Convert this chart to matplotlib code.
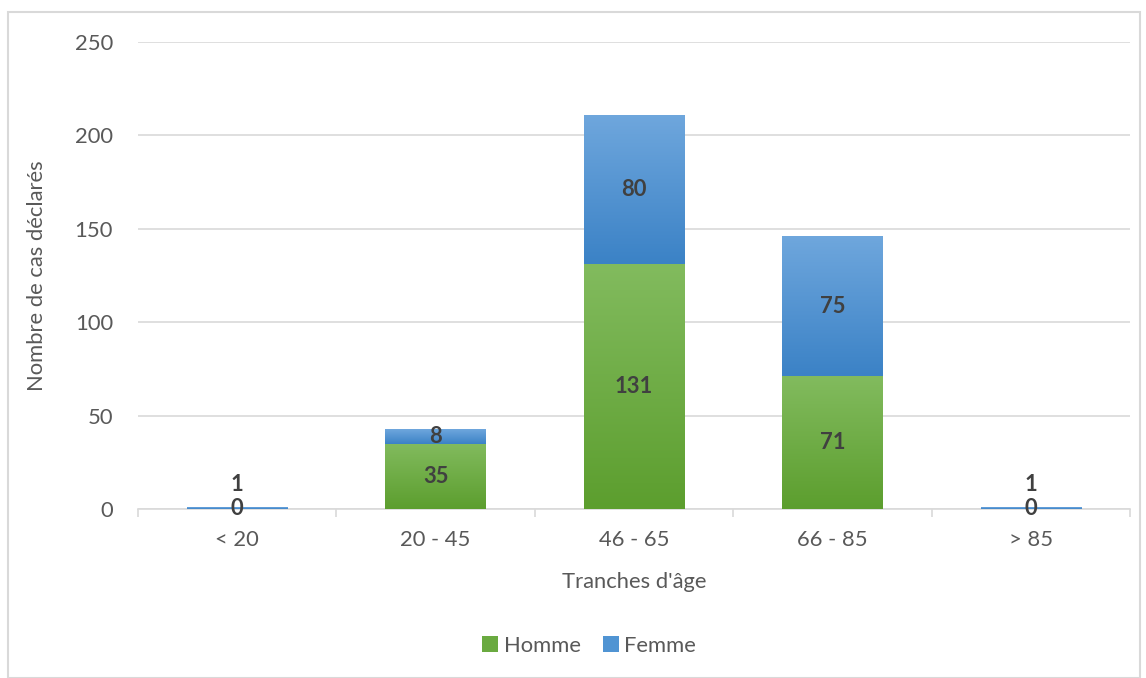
import matplotlib
matplotlib.use("Agg")
import matplotlib.pyplot as plt
import numpy as np
from matplotlib.colors import LinearSegmentedColormap
from matplotlib.patches import Rectangle, Patch

categories = ["< 20", "20 - 45", "46 - 65", "66 - 85", "> 85"]
homme = [0, 35, 131, 71, 0]
femme = [1, 8, 80, 75, 1]
yticks = [0, 50, 100, 150, 200, 250]

plt.rcParams['font.family'] = ['Lato', 'DejaVu Sans']
FS = 15.8

fig = plt.figure(figsize=(11.46, 6.78), dpi=100)
ax = fig.add_axes([0.1204, 0.2493, 0.8656, 0.6888])

# figure border
fig.patches.append(Rectangle((8/1146, 0.0), 1132/1146, 1 - 12/678, transform=fig.transFigure,
                             fill=False, edgecolor='#d9d9d9', linewidth=1.5))

x = np.arange(len(categories))
width = 0.505
green_cmap = LinearSegmentedColormap.from_list('g', ['#5c9e2e', '#82bb5e'])
blue_cmap = LinearSegmentedColormap.from_list('b', ['#3b82c6', '#6fa7dd'])

grad = np.linspace(0, 1, 256).reshape(-1, 1)

def gradient_bars(bars, cmap):
    for b in bars:
        h = b.get_height()
        if h <= 0:
            continue
        x0, y0 = b.get_x(), b.get_y()
        im = ax.imshow(grad, cmap=cmap, aspect='auto', origin='lower',
                       extent=[x0, x0 + b.get_width(), y0, y0 + h], zorder=3)
        im.set_clip_path(b)
        b.set_facecolor('none')

bh = ax.bar(x, homme, width, color='#6aaa40', label='Homme', zorder=3, linewidth=0)
bf = ax.bar(x, femme, width, bottom=homme, color='#5094d3', label='Femme', zorder=3, linewidth=0)
gradient_bars(bh, green_cmap)
gradient_bars(bf, blue_cmap)

# labels
for i in range(len(categories)):
    ax.text(x[i], homme[i] / 2, str(homme[i]), ha='center', va='center',
            fontsize=FS, fontweight='bold', color='#404040', zorder=5)
    yc = homme[i] + femme[i] / 2
    if femme[i] < 5:
        ax.annotate(str(femme[i]), (x[i], yc), xytext=(0, 17), textcoords='offset points',
                    ha='center', va='center', fontsize=FS, fontweight='bold',
                    color='#404040', zorder=5)
    else:
        ax.text(x[i], yc, str(femme[i]), ha='center', va='center',
                fontsize=FS, fontweight='bold', color='#404040', zorder=5)

ax.set_ylim(0, 250)
ax.set_xlim(-0.5, len(categories) - 0.5)
ax.set_yticks(yticks)
ax.set_xticks(x)
ax.set_xticklabels(categories)
ax.set_xticks(np.arange(-0.5, len(categories), 1), minor=True)
ax.tick_params(axis='x', which='major', length=0, labelsize=FS, colors='#595959', pad=15)
ax.tick_params(axis='x', which='minor', length=6, color='#d9d9d9', width=1.2)
ax.tick_params(axis='y', length=0, labelsize=FS, colors='#595959', pad=18)
ax.grid(axis='y', color='#d9d9d9', linewidth=1.2, zorder=0)
ax.set_axisbelow(True)
for s in ['top', 'right', 'left']:
    ax.spines[s].set_visible(False)
ax.spines['bottom'].set_color('#d9d9d9')
ax.spines['bottom'].set_linewidth(1.2)

ax.set_xlabel("Tranches d'âge", fontsize=FS, color='#595959', labelpad=16)
ax.set_ylabel("Nombre de cas déclarés", fontsize=FS, color='#595959', labelpad=20)

handles = [Patch(facecolor='#6aaa40'), Patch(facecolor='#5094d3')]
fig.legend(handles, ['Homme', 'Femme'], loc='center', bbox_to_anchor=(589/1146, 1 - 646/678),
           ncol=2, frameon=False, fontsize=FS, labelcolor='#595959',
           handlelength=0.75, handleheight=0.75, handletextpad=0.25, columnspacing=1.0)

fig.savefig('out.png', dpi=100)
